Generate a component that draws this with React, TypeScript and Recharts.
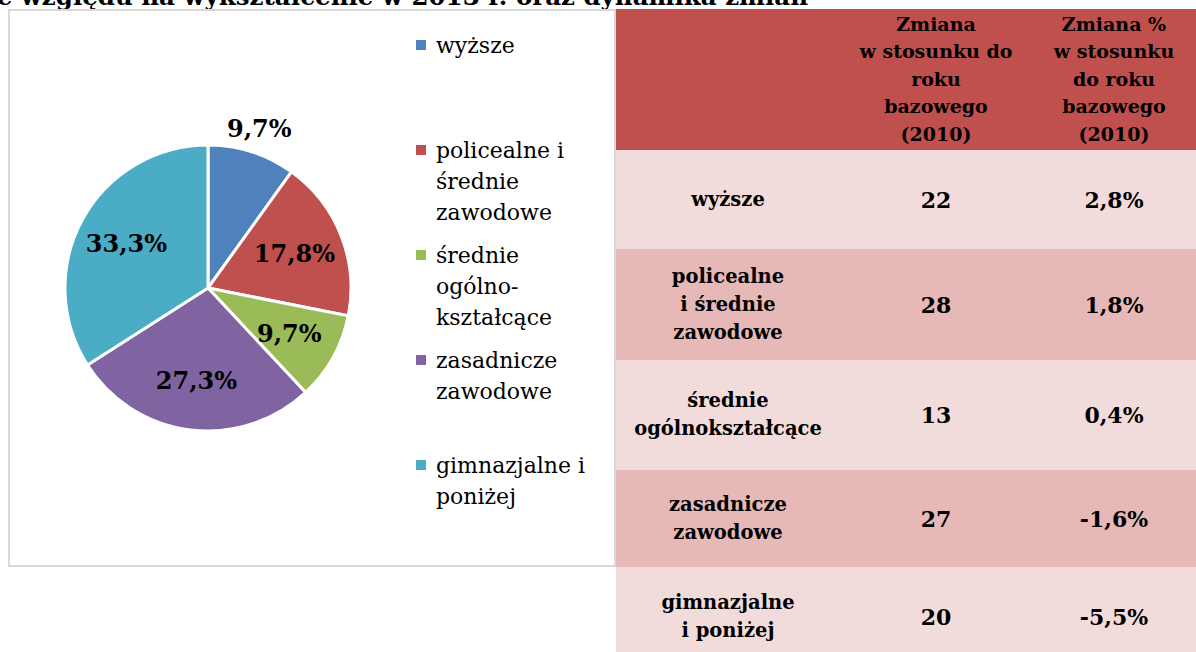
import React from 'react'
import { PieChart, Pie, Cell, Legend } from 'recharts'

const title = 'ze względu na wykształcenie w 2013 r. oraz dynamika zmian'
const categories = [
  'wyższe',
  'policealne i średnie zawodowe',
  'średnie ogólnokształcące',
  'zasadnicze zawodowe',
  'gimnazjalne i poniżej',
]
const shares = [9.7, 17.8, 9.7, 27.3, 33.3]
const colors = ['#4F81BD', '#C0504D', '#9BBB59', '#8064A2', '#4BACC6']
const legendLines = [
  ['wyższe'],
  ['policealne i', 'średnie', 'zawodowe'],
  ['średnie', 'ogólno-', 'kształcące'],
  ['zasadnicze', 'zawodowe'],
  ['gimnazjalne i', 'poniżej'],
]
const tableLabels = [
  ['wyższe'],
  ['policealne', 'i średnie', 'zawodowe'],
  ['średnie', 'ogólnokształcące'],
  ['zasadnicze', 'zawodowe'],
  ['gimnazjalne', 'i poniżej'],
]
const changeAbs = [22, 28, 13, 27, 20]
const changePct = [2.8, 1.8, 0.4, -1.6, -5.5]
const headerCol2 = ['Zmiana', 'w stosunku do', 'roku', 'bazowego', '(2010)']
const headerCol3 = ['Zmiana %', 'w stosunku', 'do roku', 'bazowego', '(2010)']

const data = categories.map((name, i) => ({ name, value: shares[i] }))

const SERIF = '"DejaVu Serif", serif'
const RAD = Math.PI / 180
const fmt = (v: number) => v.toFixed(1).replace('.', ',') + '%'

// row geometry of the table (page px)
const rowTops = [150, 249, 360, 470, 567]
const rowHeights = [99, 111, 110, 97, 100]
const rowFills = ['#F2DCDB', '#E6B9B8', '#F2DCDB', '#E6B9B8', '#F2DCDB']
const cols = [
  { left: 616, width: 224 },
  { left: 840, width: 192 },
  { left: 1032, width: 164 },
]

function renderLabel(props: any) {
  const { cx, cy, midAngle, outerRadius, index } = props
  const r = outerRadius * (index === 0 ? 1.17 : 0.65)
  const x = cx + r * Math.cos(-midAngle * RAD)
  const y = cy + r * Math.sin(-midAngle * RAD)
  return (
    <text x={x} y={y} textAnchor="middle" dominantBaseline="central"
      fill="#000" fontFamily={SERIF} fontWeight="bold" fontSize={24}>
      {fmt(shares[index])}
    </text>
  )
}

function LegendContent() {
  return (
    <div style={{ fontFamily: SERIF, fontSize: 22, lineHeight: '31px', color: '#000' }}>
      {categories.map((name, i) => (
        <div key={name} style={{ position: 'relative', height: 105, paddingLeft: 20 }}>
          <span style={{ position: 'absolute', left: 0, top: 10, width: 10, height: 10, background: colors[i] }} />
          {legendLines[i].map(l => <div key={l} style={{ whiteSpace: 'nowrap' }}>{l}</div>)}
        </div>
      ))}
    </div>
  )
}

function Cell2({ left, width, top, height, lines, size, lh, bg }: any) {
  return (
    <div style={{
      position: 'absolute', left, width, top, height, background: bg,
      display: 'flex', flexDirection: 'column', alignItems: 'center', justifyContent: 'center',
      fontFamily: SERIF, fontWeight: 'bold', fontSize: size, lineHeight: lh + 'px', color: '#000',
      textAlign: 'center', whiteSpace: 'nowrap',
    }}>
      {lines.map((l: string, i: number) => <div key={i}>{l}</div>)}
    </div>
  )
}

export default function App() {
  return (
    <div style={{ position: 'absolute', left: 0, top: 0, width: 1196, height: 652, overflow: 'hidden', background: '#fff' }}>
      <svg width={1196} height={20} style={{ position: 'absolute', left: 0, top: 0 }}>
        <text x={808} y={5} textAnchor="end" fontFamily={SERIF} fontWeight="bold" fontSize={24.5} fill="#000">{title}</text>
      </svg>

      <div style={{ position: 'absolute', left: 8, top: 9, width: 608, height: 558, border: '2px solid #D9D9D9', boxSizing: 'border-box' }}>
        <PieChart width={604} height={554} margin={{ top: 0, right: 0, bottom: 0, left: 0 }}>
          <Pie
            data={data}
            dataKey="value"
            nameKey="name"
            cx={198}
            cy={277}
            outerRadius={143}
            startAngle={90}
            endAngle={-270}
            stroke="#fff"
            strokeWidth={3}
            label={renderLabel}
            labelLine={false}
            isAnimationActive={false}
          >
            {data.map((d, i) => <Cell key={d.name} fill={colors[i]} />)}
          </Pie>
          <Legend
            layout="vertical"
            align="right"
            verticalAlign="middle"
            content={<LegendContent />}
            wrapperStyle={{ left: 406, top: 19, width: 190 }}
          />
        </PieChart>
      </div>

      {/* table */}
      <div style={{ position: 'absolute', left: 616, top: 9, width: 580, height: 141, background: '#C0504D' }} />
      <Cell2 {...cols[1]} top={9} height={141} lines={headerCol2} size={19} lh={27.5} />
      <Cell2 {...cols[2]} top={9} height={141} lines={headerCol3} size={19} lh={27.5} />
      {tableLabels.map((lab, i) => (
        <React.Fragment key={i}>
          <div style={{ position: 'absolute', left: 616, top: rowTops[i], width: 580, height: rowHeights[i], background: rowFills[i] }} />
          <Cell2 {...cols[0]} top={rowTops[i]} height={rowHeights[i]} lines={lab} size={19.5} lh={28} />
          <Cell2 {...cols[1]} top={rowTops[i]} height={rowHeights[i]} lines={[String(changeAbs[i])]} size={22} lh={28} />
          <Cell2 {...cols[2]} top={rowTops[i]} height={rowHeights[i]} lines={[fmt(changePct[i])]} size={22} lh={28} />
        </React.Fragment>
      ))}
    </div>
  )
}
